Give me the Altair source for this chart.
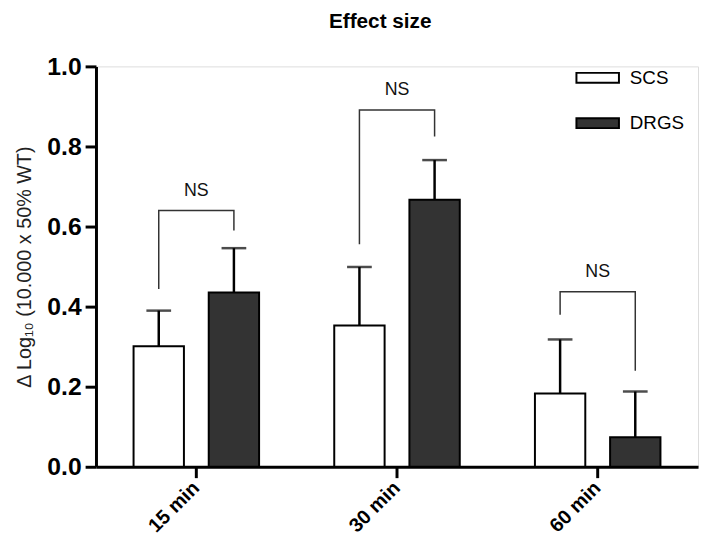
import altair as alt
import pandas as pd

# ---- data ----
groups = ["15 min", "30 min", "60 min"]
series = ["SCS", "DRGS"]
scs_mean = [0.301, 0.353, 0.183]
scs_upper = [0.390, 0.499, 0.318]
drgs_mean = [0.435, 0.667, 0.074]
drgs_upper = [0.546, 0.766, 0.188]
# significance brackets: top line, left (SCS) leg end, right (DRGS) leg end
bracket_top = [0.640, 0.891, 0.437]
bracket_left_end = [0.444, 0.556, 0.380]
bracket_right_end = [0.590, 0.825, 0.240]
sig_labels = ["NS", "NS", "NS"]

FONT = "Liberation Sans"

rows = []
for i, g in enumerate(groups):
    rows.append({"group": g, "series": "SCS", "mean": scs_mean[i], "upper": scs_upper[i]})
    rows.append({"group": g, "series": "DRGS", "mean": drgs_mean[i], "upper": drgs_upper[i]})
bars_df = pd.DataFrame(rows)

br_rows = []
for i, g in enumerate(groups):
    br_rows.append({"group": g, "series": "SCS", "y": bracket_left_end[i], "k": 0})
    br_rows.append({"group": g, "series": "SCS", "y": bracket_top[i], "k": 1})
    br_rows.append({"group": g, "series": "DRGS", "y": bracket_top[i], "k": 2})
    br_rows.append({"group": g, "series": "DRGS", "y": bracket_right_end[i], "k": 3})
br_df = pd.DataFrame(br_rows)

lab_df = pd.DataFrame({"group": groups, "y": bracket_top, "label": sig_labels})

x_enc = alt.X(
    "group:N",
    sort=groups,
    scale=alt.Scale(paddingInner=0, paddingOuter=0),
    axis=alt.Axis(
        title=None,
        labelAngle=-45,
        labelAlign="right",
        labelBaseline="middle",
        labelFont=FONT,
        labelFontSize=20,
        labelFontWeight="bold",
        labelColor="black",
        labelPadding=7,
        tickSize=11,
        tickWidth=3,
        tickColor="black",
        domainWidth=3,
        domainColor="black",
    ),
)
xoff = alt.XOffset(
    "series:N",
    sort=series,
    scale=alt.Scale(domain=series, paddingInner=0.33, paddingOuter=0.5),
)
y_scale = alt.Scale(domain=[0, 1], nice=False, zero=True)

base = alt.Chart(bars_df)

bars = base.mark_bar(stroke="black", strokeWidth=2).encode(
    x=x_enc,
    xOffset=xoff,
    y=alt.Y(
        "mean:Q",
        scale=y_scale,
        axis=alt.Axis(
            values=[0, 0.2, 0.4, 0.6, 0.8, 1.0],
            format=".1f",
            grid=False,
            labelFont=FONT,
            labelFontSize=25,
            labelFontWeight="bold",
            labelColor="black",
            labelPadding=4,
            tickSize=11,
            tickWidth=3,
            tickColor="black",
            domainWidth=3,
            domainColor="black",
            title="Δ Log₁₀ (10.000 x 50% WT)",
            titleFont=FONT,
            titleFontSize=20,
            titleFontWeight="normal",
            titleColor="#222222",
            titlePadding=12,
        ),
    ),
    fill=alt.Fill(
        "series:N",
        sort=series,
        scale=alt.Scale(domain=series, range=["white", "#333333"]),
        legend=alt.Legend(
            title=None,
            orient="none",
            legendX=485,
            legendY=-11,
            symbolType="M-1,-0.23H1V0.23H-1Z",
            symbolSize=1849,
            symbolStrokeColor="black",
            symbolStrokeWidth=2,
            labelFont=FONT,
            labelFontSize=19,
            labelColor="black",
            labelOffset=10,
            rowPadding=13,
            padding=0,
        ),
    ),
)

err_line = base.mark_rule(color="black", strokeWidth=2.5).encode(
    x=alt.X("group:N", sort=groups),
    xOffset=alt.XOffset("series:N", sort=series),
    y="mean:Q",
    y2="upper:Q",
)

err_cap = base.mark_tick(color="black", thickness=2.5, size=25).encode(
    x=alt.X("group:N", sort=groups),
    xOffset=alt.XOffset("series:N", sort=series),
    y="upper:Q",
)

bracket = alt.Chart(br_df).mark_line(color="#333333", strokeWidth=1.5).encode(
    x=alt.X("group:N", sort=groups),
    xOffset=alt.XOffset("series:N", sort=series),
    y="y:Q",
    detail="group:N",
    order="k:Q",
)

labels = alt.Chart(lab_df).mark_text(
    font=FONT, fontSize=18, color="#111111", dy=-20
).encode(
    x=alt.X("group:N", sort=groups),
    y="y:Q",
    text="label:N",
)

chart = (
    alt.layer(bars, err_line, err_cap, bracket, labels)
    .properties(
        width=609,
        height=405,
        title=alt.TitleParams(
            "Effect size",
            font=FONT,
            fontSize=21,
            fontWeight="bold",
            color="black",
            anchor="middle",
            dx=-17,
            offset=23,
        ),
        padding={"left": 89, "top": 56, "right": 3, "bottom": 70},
        autosize=alt.AutoSizeParams(type="none"),
    )
    .configure_view(stroke=None)
    .configure(background="white")
)

chart.save("out.html", embed_options={"renderer": "svg", "actions": False})
